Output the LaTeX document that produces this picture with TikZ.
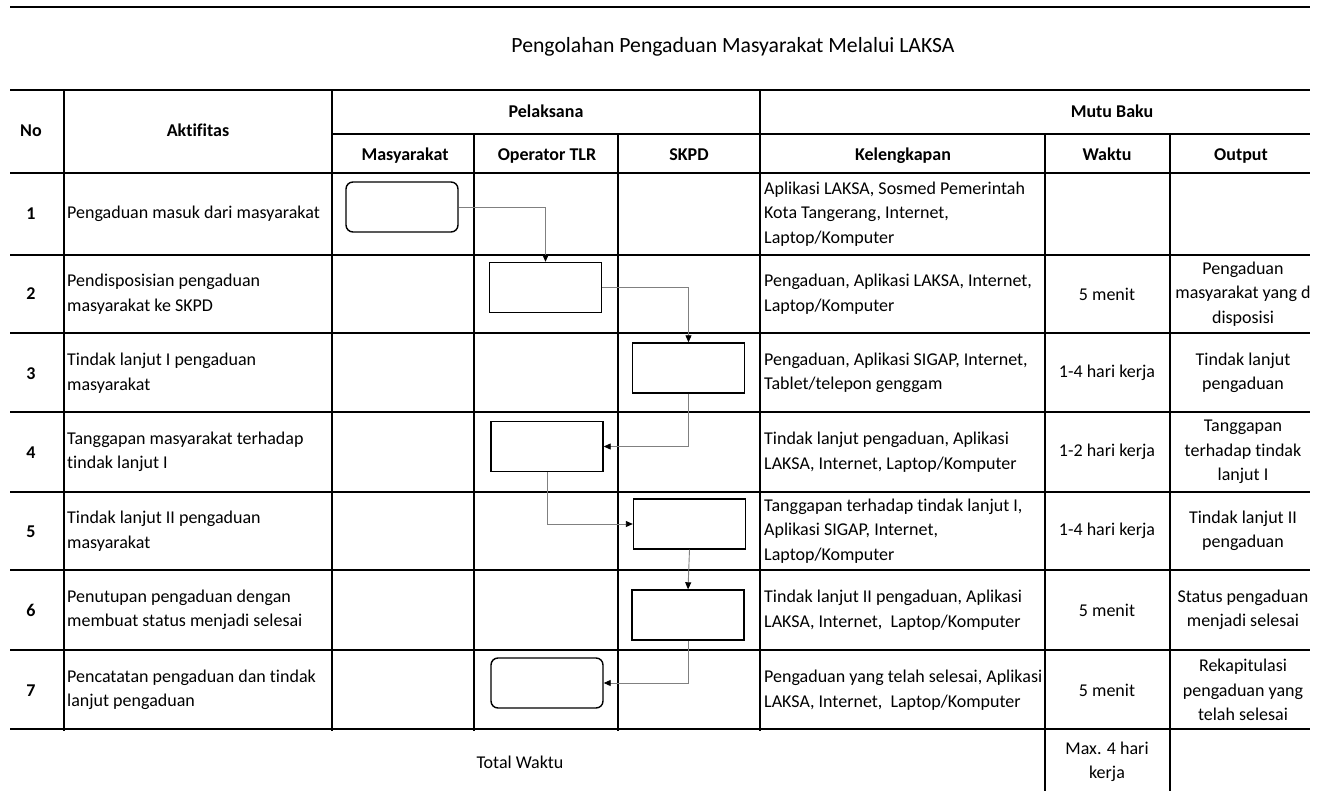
\documentclass[tikz,border=0pt]{standalone}
\usepackage{fontspec}
\setmainfont[Ligatures=NoCommon]{Carlito}
\usetikzlibrary{arrows.meta}
\begin{document}
\begin{tikzpicture}[x=1pt,y=-1pt,
    every node/.style={font=\fontsize{18}{24.5}\selectfont,inner sep=0pt},
    head/.style={font=\fontsize{18}{24.5}\selectfont\bfseries,text height=12pt,text depth=4pt},
    cell/.style={anchor=west,align=left},
    mid/.style={align=center},
    grid/.style={line width=1.6pt},
    box/.style={draw,line width=1.4pt,minimum width=112pt,minimum height=50pt},
    rbox/.style={box,rounded corners=7pt},
    conn/.style={draw=gray,line width=0.9pt,-{Triangle[length=7pt,width=6pt,color=black]}}]
    \useasboundingbox (0,0) rectangle (1322,791);
    \draw[line width=2pt](10,7)--(1310,7);
    \node (title) at (733,47) {\fontsize{21.7}{26}\selectfont Pengolahan Pengaduan Masyarakat Melalui LAKSA};
    % table lines
    \foreach \y in {90,173,255,333,412,492,570,650,729} \draw[grid](10,\y)--(1310,\y);
    \draw[grid](332,134)--(1310,134);
    \foreach \x in {64,332,760} \draw[grid](\x,90)--(\x,731);
    \foreach \x in {474,618} \draw[grid](\x,134)--(\x,731);
    \foreach \x in {1045,1170} \draw[grid](\x,134)--(\x,791);
    % header
    \node[head] (hno) at (31,133) {No};
    \node[head] (hakt) at (198,133) {Aktifitas};
    \node[head] (hpel) at (546,114) {Pelaksana};
    \node[head] (hmutu) at (1112,114) {Mutu Baku};
    \node[head] (hmas) at (405,157) {Masyarakat};
    \node[head] (hop) at (547,157) {Operator TLR};
    \node[head] (hskpd) at (689,157) {SKPD};
    \node[head] (hkel) at (903,157) {Kelengkapan};
    \node[head] (hwak) at (1107,157) {Waktu};
    \node[head] (hout) at (1241,157) {Output};
    % rows
    \foreach \n/\y/\akt/\kel in {
        1/214/{Pengaduan masuk dari masyarakat}/{Aplikasi LAKSA, Sosmed Pemerintah\\Kota Tangerang, Internet,\\Laptop/Komputer},
        2/294/{Pendisposisian pengaduan\\masyarakat ke SKPD}/{Pengaduan, Aplikasi LAKSA, Internet,\\Laptop/Komputer},
        3/373/{Tindak lanjut I pengaduan\\masyarakat}/{Pengaduan, Aplikasi SIGAP, Internet,\\Tablet/telepon genggam},
        4/452/{Tanggapan masyarakat terhadap\\tindak lanjut I}/{Tindak lanjut pengaduan, Aplikasi\\LAKSA, Internet, Laptop/Komputer},
        5/531/{Tindak lanjut II pengaduan\\masyarakat}/{Tanggapan terhadap tindak lanjut I,\\Aplikasi SIGAP, Internet,\\Laptop/Komputer},
        6/610/{Penutupan pengaduan dengan\\membuat status menjadi selesai}/{Tindak lanjut II pengaduan, Aplikasi\\LAKSA, Internet,~ Laptop/Komputer},
        7/690/{Pencatatan pengaduan dan tindak\\lanjut pengaduan}/{Pengaduan yang telah selesai, Aplikasi\\LAKSA, Internet,~ Laptop/Komputer}}{
        \node[head] (no\n) at (31,\y+2) {\n};
        \node[cell] (akt\n) at (67,\y) {\akt};
        \node[cell] (kel\n) at (764,\y) {\kel};
    }
    \foreach \n/\y/\wak/\out in {
        2/294/{5 menit}/{Pengaduan\\masyarakat yang d\\disposisi},
        3/373/{1-4 hari kerja}/{Tindak lanjut\\pengaduan},
        4/452/{1-2 hari kerja}/{Tanggapan\\terhadap tindak\\lanjut I},
        5/531/{1-4 hari kerja}/{Tindak lanjut II\\pengaduan},
        6/610/{5 menit}/{Status pengaduan\\menjadi selesai},
        7/690/{5 menit}/{Rekapitulasi\\pengaduan yang\\telah selesai}}{
        \node[mid] (wak\n) at (1107,\y) {\wak};
        \node[mid] (out\n) at (1243,\y) {\out};
    }
    \node (total) at (520,762) {Total Waktu};
    \node[mid] (max) at (1107,762) {Max. 4 hari\\kerja};
    % flow
    \node[rbox] (b1) at (402,207) {};
    \node[box] (b2) at (545.5,287.5) {};
    \node[box] (b3) at (688.5,368) {};
    \node[box] (b4) at (547,446.5) {};
    \node[box] (b5) at (689.5,524) {};
    \node[box] (b6) at (688,615) {};
    \node[rbox] (b7) at (547,683) {};
    \draw[conn](b1.east)-|(b2.north);
    \draw[conn](b2.east)-|(b3.north);
    \draw[conn](b3.south)|-(b4.east);
    \draw[conn](b4.south)|-(b5.west);
    \draw[conn](b5.south)--(b6.north);
    \draw[conn](b6.south)|-(b7.east);
\end{tikzpicture}
\end{document}
